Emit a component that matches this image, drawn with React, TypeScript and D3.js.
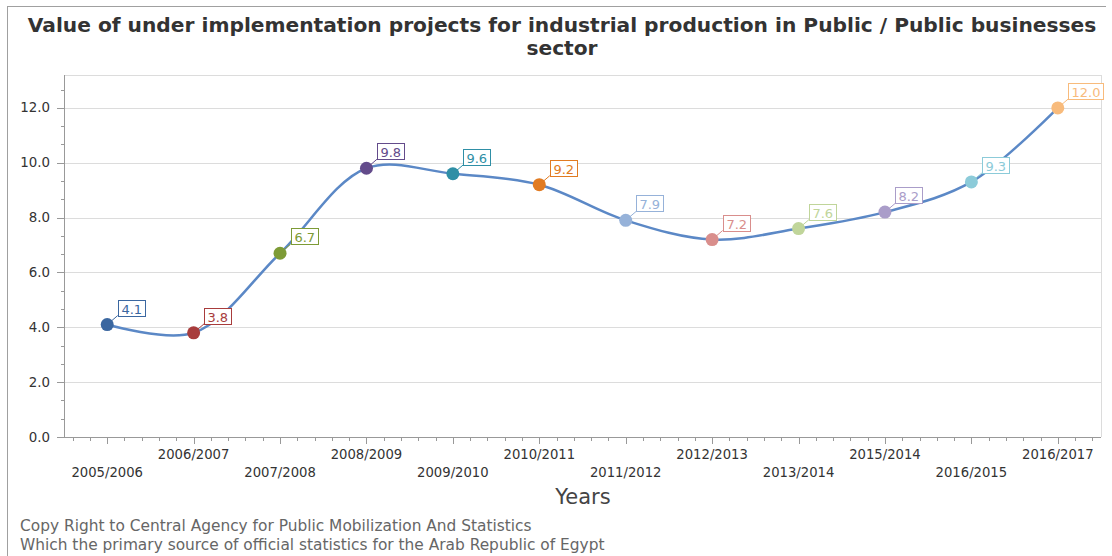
import React from 'react';
import * as d3 from 'd3';

const years = [
  '2005/2006', '2006/2007', '2007/2008', '2008/2009', '2009/2010', '2010/2011',
  '2011/2012', '2012/2013', '2013/2014', '2015/2014', '2016/2015', '2016/2017',
];
const values = [4.1, 3.8, 6.7, 9.8, 9.6, 9.2, 7.9, 7.2, 7.6, 8.2, 9.3, 12.0];
const pointColors = [
  '#3b67a0', '#a83c3c', '#7d9b36', '#634b8b', '#2f8fa6', '#e17b22',
  '#96b2d9', '#d98e8c', '#c0d59a', '#aa9dc9', '#8ccbd9', '#f8bb7c',
];
const yTicks = [0, 2, 4, 6, 8, 10, 12];

const W = 1112;
const H = 556;
const plot = { left: 64, right: 1101, top: 75, bottom: 437 };

const labelWidth = (s: string) => {
  let w = 0;
  for (const c of s) w += c === '.' ? 4.1 : 8.27;
  return w + 6;
};

export default function App() {
  const x = d3.scaleBand<string>().domain(years).range([plot.left, plot.right]);
  const cx = (i: number) => (x(years[i]) as number) + x.bandwidth() / 2;
  const y = d3.scaleLinear().domain([0, 13.2]).range([plot.bottom, plot.top]);

  const line = d3.line<number>()
    .x((_, i) => cx(i))
    .y(d => y(d))
    .curve(d3.curveCatmullRom.alpha(0.5));

  // minor ticks
  const step = x.bandwidth() / 5;
  const xMinor: number[] = [];
  for (let p = cx(0) - step * 2; p <= plot.right; p += step) {
    if (p >= plot.left + 1) xMinor.push(p);
  }
  const yMinor = d3.range(0, 13.2, 2 / 3);

  const font = "'DejaVu Sans', Verdana, sans-serif";

  return (
    <div style={{ position: 'absolute', left: 0, top: 0 }}>
      <svg width={W} height={H} style={{ display: 'block', background: '#fff' }}>
        {/* outer frame */}
        <line x1={7.5} x2={7.5} y1={6} y2={H} stroke="#a0a0a0" />
        <line x1={7.5} x2={1106} y1={6.5} y2={6.5} stroke="#a0a0a0" />

        {/* title */}
        <g fontFamily={font} fontWeight="bold" fontSize={20.2} fill="#333" textAnchor="middle">
          <text x={562} y={32}>Value of under implementation projects for industrial production in Public / Public businesses</text>
          <text x={562} y={55}>sector</text>
        </g>

        {/* grid + plot border */}
        {yTicks.slice(1).map(t => (
          <line key={t} x1={plot.left} x2={plot.right} y1={Math.round(y(t)) + 0.5} y2={Math.round(y(t)) + 0.5} stroke="#dcdcdc" />
        ))}
        <line x1={plot.left} x2={plot.right} y1={plot.top + 0.5} y2={plot.top + 0.5} stroke="#dcdcdc" />
        <line x1={plot.right + 0.5} x2={plot.right + 0.5} y1={plot.top} y2={plot.bottom} stroke="#dcdcdc" />

        {/* y axis */}
        <line x1={plot.left + 0.5} x2={plot.left + 0.5} y1={plot.top} y2={plot.bottom} stroke="#999" />
        {yMinor.map((t, i) => (
          <line key={'ym' + i} x1={plot.left - 3} x2={plot.left} y1={Math.round(y(t)) + 0.5} y2={Math.round(y(t)) + 0.5} stroke="#999" />
        ))}
        {yTicks.map(t => (
          <g key={'yt' + t}>
            <line x1={plot.left - 7} x2={plot.left} y1={Math.round(y(t)) + 0.5} y2={Math.round(y(t)) + 0.5} stroke="#999" />
            <text x={50} y={y(t) + 4.5} textAnchor="end" fontFamily={font} fontSize={13.4} fill="#333">{t.toFixed(1)}</text>
          </g>
        ))}

        {/* x axis */}
        <line x1={plot.left} x2={plot.right} y1={plot.bottom + 0.5} y2={plot.bottom + 0.5} stroke="#999" />
        {xMinor.map((p, i) => (
          <line key={'xm' + i} x1={Math.round(p) + 0.5} x2={Math.round(p) + 0.5} y1={plot.bottom} y2={plot.bottom + 4} stroke="#999" />
        ))}
        {years.map((yr, i) => (
          <g key={yr}>
            <line x1={Math.round(cx(i)) + 0.5} x2={Math.round(cx(i)) + 0.5} y1={plot.bottom} y2={plot.bottom + 7} stroke="#999" />
            <text x={cx(i)} y={i % 2 === 0 ? 477 : 459} textAnchor="middle" fontFamily={font} fontSize={13.2} fill="#333">{yr}</text>
          </g>
        ))}
        <text x={583} y={504} textAnchor="middle" fontFamily={font} fontSize={21} fill="#444">Years</text>

        {/* series */}
        <path d={line(values) || ''} fill="none" stroke="#5b88c6" strokeWidth={2.5} />
        {values.map((v, i) => {
          const px = cx(i);
          const py = y(v);
          const label = v.toFixed(1);
          const bw = labelWidth(label);
          const bx = px + 10.5;
          const by = py - 25;
          return (
            <g key={'p' + i}>
              <line x1={px} y1={py} x2={bx} y2={by + 16} stroke={pointColors[i]} strokeWidth={1} />
              <circle cx={px} cy={py} r={6.5} fill={pointColors[i]} />
              <rect x={Math.round(bx) + 0.5} y={Math.round(by) + 0.5} width={Math.round(bw)} height={16} fill="#fff" stroke={pointColors[i]} />
              <text x={Math.round(bx) + 0.5 + bw / 2} y={Math.round(by) + 13.5} textAnchor="middle" fontFamily={font} fontSize={13} fill={pointColors[i]}>{label}</text>
            </g>
          );
        })}

        {/* footer */}
        <g fontFamily={font} fontSize={15.4} fill="#666">
          <text x={20} y={531}>Copy Right to Central Agency for Public Mobilization And Statistics</text>
          <text x={20} y={550}>Which the primary source of official statistics for the Arab Republic of Egypt</text>
        </g>
      </svg>
    </div>
  );
}
